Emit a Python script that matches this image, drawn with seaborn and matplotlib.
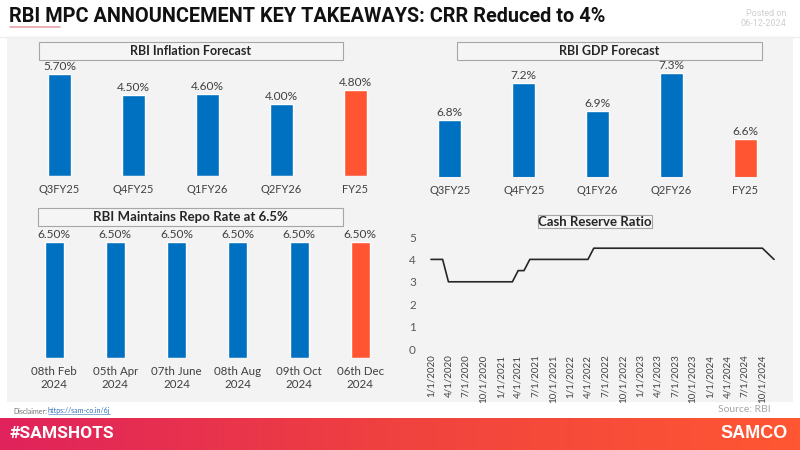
import numpy as np
import pandas as pd
import seaborn as sns
import matplotlib.pyplot as plt
from matplotlib.patches import Rectangle
from matplotlib.colors import LinearSegmentedColormap

# ---- data ----
infl_cats = ['Q3FY25', 'Q4FY25', 'Q1FY26', 'Q2FY26', 'FY25']
infl_vals = [5.70, 4.50, 4.60, 4.00, 4.80]

gdp_cats = ['Q3FY25', 'Q4FY25', 'Q1FY26', 'Q2FY26', 'FY25']
gdp_vals = [6.8, 7.2, 6.9, 7.3, 6.6]

repo_cats = ['08th Feb\n2024', '05th Apr\n2024', '07th June\n2024',
             '08th Aug\n2024', '09th Oct\n2024', '06th Dec\n2024']
repo_vals = [6.50, 6.50, 6.50, 6.50, 6.50, 6.50]

# monthly CRR, Jan 2020 .. Dec 2024
crr_vals = [4, 4, 4, 3, 3, 3, 3, 3, 3, 3, 3, 3,
            3, 3, 3, 3.5, 3.5, 4, 4, 4, 4, 4, 4, 4,
            4, 4, 4, 4, 4.5, 4.5, 4.5, 4.5, 4.5, 4.5, 4.5, 4.5,
            4.5, 4.5, 4.5, 4.5, 4.5, 4.5, 4.5, 4.5, 4.5, 4.5, 4.5, 4.5,
            4.5, 4.5, 4.5, 4.5, 4.5, 4.5, 4.5, 4.5, 4.5, 4.5, 4.25, 4]
crr_months = pd.date_range('2020-01-01', periods=len(crr_vals), freq='MS')

BLUE = '#0070C0'
ORANGE = '#FF5533'
TXT = '#404040'

sns.set_theme(style='white')
plt.rcParams['font.family'] = ['Lato', 'DejaVu Sans']

W, H = 800, 450
fig = plt.figure(figsize=(8, 4.5), dpi=100)
fig.patch.set_facecolor('white')


def rect(l, t, r, b):
    # pixel box -> figure fraction
    return [l / W, 1 - b / H, (r - l) / W, (b - t) / H]


def fx(x):
    return x / W


def fy(y):
    return 1 - y / H


# gray panel background (behind the axes)
fig.patches.append(Rectangle((fx(7), fy(402)), (793 - 7) / W, (402 - 38) / H,
                             transform=fig.transFigure, facecolor='#f3f3f3',
                             edgecolor='none', zorder=-10))
# thin line under header
fig.add_artist(plt.Line2D([0, 1], [fy(37), fy(37)], color='#eeeeee', lw=1, zorder=-10))

# header
fig.text(fx(9), fy(16), 'RBI MPC ANNOUNCEMENT KEY TAKEAWAYS: CRR Reduced to 4%',
         fontsize=14.3, fontweight='bold', color='#111111', va='center', ha='left',
         family=['Roboto', 'DejaVu Sans'])
fig.add_artist(plt.Line2D([fx(10), fx(60)], [fy(27), fy(27)], color='#e8a3ad', lw=1.2))
fig.text(fx(786), fy(13), 'Posted on', fontsize=6.5, color='#cfcfcf', ha='right', va='center',
         family=['Roboto', 'DejaVu Sans'])
fig.text(fx(786), fy(24), '06-12-2024', fontsize=6.5, color='#cfcfcf', ha='right', va='center',
         family=['Roboto', 'DejaVu Sans'])


def title_box(l, t, r, b, label, size):
    fig.patches.append(Rectangle((fx(l), fy(b)), (r - l) / W, (b - t) / H,
                                 transform=fig.transFigure, facecolor='#f5f5f5',
                                 edgecolor='#a6a6a6', lw=0.8, zorder=5))
    fig.text(fx((l + r) / 2), fy((t + b) / 2), label, fontsize=size, fontweight='bold',
             color='#262626', ha='center', va='center', zorder=6)


def bar_panel(box, cats, vals, ylim, fmt, tick_size=8):
    ax = fig.add_axes(rect(*box))
    colors = [BLUE] * (len(cats) - 1) + [ORANGE]
    sns.barplot(x=cats, y=vals, hue=cats, palette=colors, legend=False,
                width=0.31, saturation=1, ax=ax)
    for c, v in zip(ax.containers, vals):
        ax.bar_label(c, labels=[fmt.format(v)], padding=1.5, fontsize=8.6, color=TXT)
    ax.set_xlim(-0.5, len(cats) - 0.5)
    ax.set_ylim(*ylim)
    ax.axhline(ylim[0], color='#d9d9d9', lw=0.8)
    ax.set_yticks([])
    ax.tick_params(axis='x', length=0, pad=6, labelsize=tick_size, labelcolor=TXT)
    ax.set_facecolor('none')
    sns.despine(ax=ax, left=True, bottom=True)
    ax.set_xlabel('')
    ax.set_ylabel('')
    return ax


# inflation
bar_panel((22.5, 45, 392, 176), infl_cats, infl_vals, (0, 7.32), '{:.2f}%')
title_box(39, 42, 343, 60, 'RBI Inflation Forecast', 9)

# gdp
bar_panel((413, 45, 782, 177), gdp_cats, gdp_vals, (6.2, 7.6), '{:.1f}%')
title_box(457, 42, 762, 60, 'RBI GDP Forecast', 9)

# repo
bar_panel((23.4, 230, 391, 358), repo_cats, repo_vals, (0, 7.15), '{:.2f}%', tick_size=8.3)
title_box(38, 208, 343, 226, 'RBI Maintains Repo Rate at 6.5%', 9.5)

# CRR line
ax = fig.add_axes(rect(420, 237, 785, 349))
crr_df = pd.DataFrame({'m': np.arange(len(crr_vals)), 'crr': crr_vals})
sns.lineplot(data=crr_df, x='m', y='crr', color='#262626', lw=1.2, ax=ax)
ax.set_xlim(-1.89, 60.89)
ax.set_ylim(0, 5)
ax.set_yticks([0, 1, 2, 3, 4, 5])
tick_idx = list(range(0, len(crr_vals), 3))
ax.set_xticks(tick_idx)
ax.set_xticklabels([f'{d.month}/{d.day}/{d.year}' for d in crr_months[tick_idx]],
                   rotation=90, fontsize=7, color=TXT)
ax.tick_params(axis='y', length=0, pad=3, labelsize=8.5, labelcolor='#595959')
ax.tick_params(axis='x', length=0, pad=4)
ax.axhline(0, color='#d9d9d9', lw=0.8)
ax.set_facecolor('none')
sns.despine(ax=ax, left=True, bottom=True)
ax.set_xlabel('')
ax.set_ylabel('')
title_box(538, 215, 652, 228, 'Cash Reserve Ratio', 9.5)

# footer
fig.text(fx(13), fy(411), 'Disclaimer:', fontsize=5, color='#707070', va='center')
fig.text(fx(48), fy(411), 'https://sam-co.in/6j', fontsize=5, color='#2f6fb7', va='center')
fig.add_artist(plt.Line2D([fx(48), fx(110)], [fy(414), fy(414)], color='#2f6fb7', lw=0.4))
fig.text(fx(771), fy(410), 'Source: RBI', fontsize=7.5, color='#a6a6a6', ha='right', va='center')

# gradient banner
bax = fig.add_axes(rect(0, 418, 800, 450))
grad_cmap = LinearSegmentedColormap.from_list('banner', ['#e0235c', '#f0423f', '#ff5733'])
bax.imshow(np.linspace(0, 1, 256)[None, :], aspect='auto', cmap=grad_cmap,
           extent=[0, 1, 0, 1])
bax.set_axis_off()
fig.text(fx(10), fy(434), '#SAMSHOTS', fontsize=12.5, fontweight='bold', color='white',
         va='center', ha='left', family=['Roboto', 'DejaVu Sans'])
fig.text(fx(788), fy(434), 'SAMCO', fontsize=13, fontweight='bold', color='white',
         va='center', ha='right', family=['Liberation Sans', 'DejaVu Sans'])

plt.savefig('out.png', dpi=100)
